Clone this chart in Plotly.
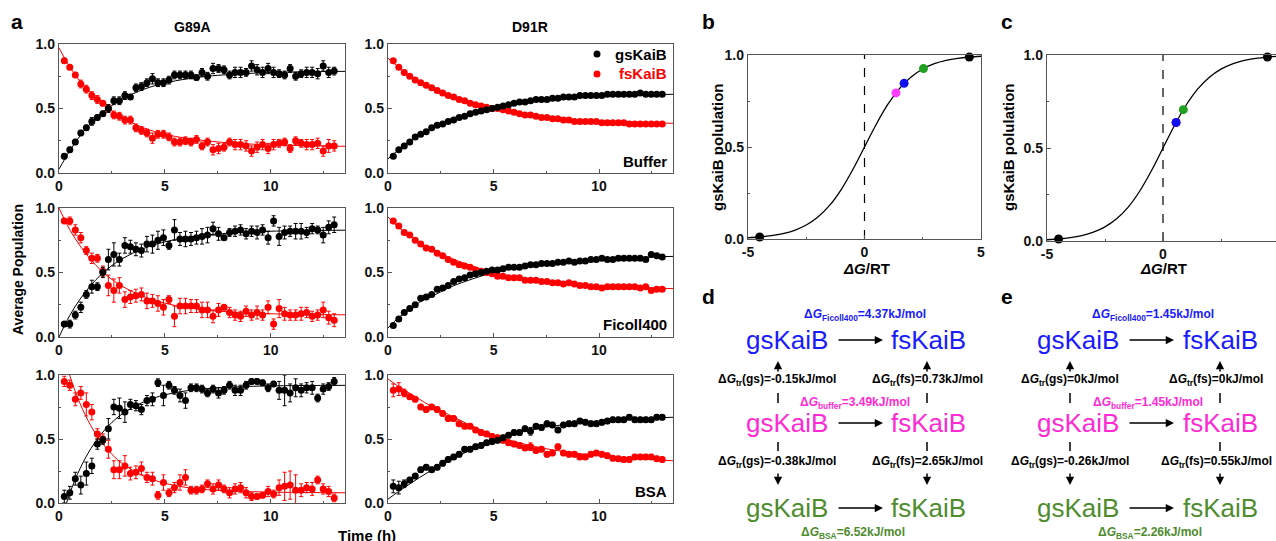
import plotly.graph_objects as go

W, H = 1276, 541
FONT = "Liberation Sans, Arial, sans-serif"
BLUE = "#1a1aff"
MAGENTA = "#ff2ad4"
GREEN = "#4e8c2e"
DOT_MAGENTA = "#ff3cff"
DOT_BLUE = "#1010f0"
DOT_GREEN = "#22a022"

# ---------------- data: panel a ----------------
time_h = [0.25, 0.51, 0.77, 1.03, 1.29, 1.55, 1.81, 2.07, 2.33, 2.59,
          2.85, 3.11, 3.37, 3.63, 3.89, 4.15, 4.41, 4.67, 4.93, 5.19,
          5.45, 5.71, 5.97, 6.23, 6.49, 6.75, 7.01, 7.27, 7.53, 7.79,
          8.05, 8.31, 8.57, 8.83, 9.09, 9.35, 9.61, 9.87, 10.13, 10.39,
          10.65, 10.91, 11.17, 11.43, 11.69, 11.95, 12.21, 12.47, 12.73, 12.99]

g89a_buffer_gs = [0.13, 0.18, 0.24, 0.31, 0.35, 0.40, 0.43, 0.46, 0.50, 0.56,
                  0.56, 0.60, 0.59, 0.66, 0.67, 0.70, 0.73, 0.70, 0.70, 0.72,
                  0.76, 0.76, 0.76, 0.76, 0.74, 0.78, 0.75, 0.81, 0.81, 0.80,
                  0.76, 0.78, 0.78, 0.78, 0.83, 0.80, 0.78, 0.81, 0.78, 0.77,
                  0.76, 0.81, 0.75, 0.77, 0.78, 0.78, 0.77, 0.83, 0.78, 0.79]
g89a_buffer_gs_err = [0.02, 0.02, 0.02, 0.02, 0.02, 0.03, 0.02, 0.02, 0.03, 0.03,
                      0.03, 0.03, 0.02, 0.03, 0.03, 0.03, 0.04, 0.03, 0.03, 0.03,
                      0.03, 0.03, 0.03, 0.03, 0.02, 0.03, 0.03, 0.04, 0.03, 0.03,
                      0.03, 0.04, 0.04, 0.03, 0.04, 0.04, 0.04, 0.04, 0.04, 0.03,
                      0.03, 0.03, 0.03, 0.03, 0.04, 0.04, 0.04, 0.04, 0.04, 0.03]
g89a_buffer_fs = [0.87, 0.82, 0.76, 0.69, 0.65, 0.60, 0.57, 0.54, 0.50, 0.45,
                  0.44, 0.41, 0.41, 0.35, 0.33, 0.31, 0.27, 0.30, 0.30, 0.28,
                  0.24, 0.24, 0.25, 0.24, 0.26, 0.21, 0.24, 0.18, 0.19, 0.20,
                  0.24, 0.22, 0.22, 0.21, 0.17, 0.20, 0.22, 0.19, 0.22, 0.23,
                  0.24, 0.19, 0.25, 0.23, 0.22, 0.22, 0.23, 0.17, 0.21, 0.21]
g89a_buffer_fs_err = [0.02, 0.02, 0.02, 0.03, 0.03, 0.03, 0.03, 0.02, 0.03, 0.03,
                      0.03, 0.03, 0.03, 0.03, 0.03, 0.03, 0.04, 0.03, 0.03, 0.03,
                      0.03, 0.03, 0.03, 0.03, 0.03, 0.03, 0.03, 0.04, 0.04, 0.03,
                      0.03, 0.04, 0.04, 0.04, 0.04, 0.04, 0.04, 0.04, 0.04, 0.03,
                      0.03, 0.03, 0.03, 0.03, 0.04, 0.04, 0.04, 0.04, 0.05, 0.04]

g89a_ficoll_gs = [0.10, 0.10, 0.17, 0.23, 0.33, 0.39, 0.39, 0.50, 0.60, 0.64,
                  0.60, 0.71, 0.70, 0.68, 0.67, 0.72, 0.72, 0.75, 0.77, 0.71,
                  0.83, 0.76, 0.76, 0.76, 0.77, 0.78, 0.79, 0.84, 0.80, 0.77,
                  0.81, 0.82, 0.83, 0.80, 0.82, 0.81, 0.83, 0.77, 0.90, 0.78,
                  0.81, 0.82, 0.82, 0.82, 0.81, 0.84, 0.83, 0.79, 0.85, 0.87]
g89a_ficoll_gs_err = [0.02, 0.03, 0.03, 0.04, 0.03, 0.05, 0.03, 0.04, 0.08, 0.09,
                      0.05, 0.06, 0.05, 0.05, 0.05, 0.06, 0.07, 0.07, 0.06, 0.03,
                      0.08, 0.05, 0.06, 0.05, 0.05, 0.06, 0.06, 0.05, 0.05, 0.02,
                      0.03, 0.04, 0.04, 0.04, 0.04, 0.05, 0.04, 0.05, 0.04, 0.07,
                      0.05, 0.04, 0.06, 0.06, 0.04, 0.04, 0.03, 0.06, 0.05, 0.06]
g89a_ficoll_fs = [0.90, 0.90, 0.83, 0.77, 0.67, 0.61, 0.61, 0.51, 0.40, 0.36,
                  0.40, 0.29, 0.31, 0.32, 0.33, 0.28, 0.28, 0.26, 0.23, 0.29,
                  0.16, 0.24, 0.24, 0.24, 0.24, 0.21, 0.21, 0.16, 0.21, 0.23,
                  0.19, 0.17, 0.16, 0.20, 0.17, 0.19, 0.17, 0.23, 0.10, 0.22,
                  0.18, 0.17, 0.17, 0.18, 0.19, 0.16, 0.17, 0.21, 0.15, 0.13]
g89a_ficoll_fs_err = [0.02, 0.03, 0.04, 0.04, 0.03, 0.04, 0.03, 0.04, 0.08, 0.09,
                      0.06, 0.06, 0.05, 0.05, 0.05, 0.06, 0.05, 0.06, 0.06, 0.03,
                      0.08, 0.06, 0.06, 0.05, 0.05, 0.06, 0.06, 0.05, 0.05, 0.02,
                      0.04, 0.04, 0.04, 0.04, 0.04, 0.05, 0.04, 0.05, 0.04, 0.07,
                      0.05, 0.04, 0.04, 0.05, 0.04, 0.04, 0.04, 0.06, 0.05, 0.05]

g89a_bsa_gs = [0.05, 0.08, 0.19, 0.14, 0.23, 0.29, 0.46, 0.49, 0.58, 0.75,
               0.74, 0.71, 0.77, 0.76, 0.73, 0.80, 0.81, 0.94, 0.84, 0.92,
               0.88, 0.84, 0.80, 0.90, 0.90, 0.89, 0.86, 0.89, 0.86, 0.88,
               0.92, 0.88, 0.88, 0.92, 0.95, 0.95, 0.94, 0.90, 0.93, 0.88,
               0.88, 0.86, 0.90, 0.88, 0.90, 0.90, 0.82, 0.89, 0.91, 0.95]
g89a_bsa_gs_err = [0.05, 0.05, 0.05, 0.07, 0.09, 0.06, 0.04, 0.03, 0.08, 0.06,
                   0.08, 0.08, 0.04, 0.04, 0.04, 0.04, 0.05, 0.03, 0.08, 0.03,
                   0.03, 0.05, 0.06, 0.03, 0.03, 0.03, 0.03, 0.03, 0.04, 0.03,
                   0.03, 0.04, 0.04, 0.03, 0.02, 0.02, 0.02, 0.03, 0.02, 0.07,
                   0.12, 0.07, 0.07, 0.05, 0.04, 0.05, 0.03, 0.04, 0.03, 0.03]
g89a_bsa_fs = [0.95, 0.92, 0.81, 0.86, 0.77, 0.71, 0.54, 0.50, 0.42, 0.26,
               0.26, 0.29, 0.23, 0.24, 0.27, 0.20, 0.19, 0.06, 0.16, 0.08,
               0.12, 0.16, 0.20, 0.10, 0.10, 0.11, 0.15, 0.11, 0.14, 0.11,
               0.08, 0.11, 0.12, 0.08, 0.05, 0.05, 0.06, 0.09, 0.07, 0.12,
               0.13, 0.14, 0.10, 0.10, 0.12, 0.11, 0.18, 0.11, 0.09, 0.04]
g89a_bsa_fs_err = [0.04, 0.04, 0.05, 0.05, 0.09, 0.06, 0.04, 0.04, 0.07, 0.07,
                   0.07, 0.08, 0.05, 0.05, 0.05, 0.04, 0.05, 0.03, 0.06, 0.03,
                   0.04, 0.06, 0.06, 0.03, 0.03, 0.03, 0.03, 0.04, 0.04, 0.03,
                   0.04, 0.04, 0.04, 0.04, 0.03, 0.02, 0.02, 0.04, 0.03, 0.06,
                   0.11, 0.11, 0.12, 0.05, 0.04, 0.05, 0.03, 0.04, 0.04, 0.03]

d91r_buffer_gs = [0.13, 0.18, 0.21, 0.24, 0.28, 0.30, 0.32, 0.35, 0.37, 0.38,
                  0.40, 0.41, 0.43, 0.44, 0.46, 0.47, 0.48, 0.49, 0.50, 0.51,
                  0.52, 0.53, 0.54, 0.55, 0.55, 0.56, 0.57, 0.57, 0.57, 0.58,
                  0.58, 0.59, 0.59, 0.59, 0.60, 0.60, 0.60, 0.60, 0.60, 0.61,
                  0.61, 0.61, 0.61, 0.61, 0.61, 0.62, 0.61, 0.61, 0.61, 0.61]
d91r_buffer_fs = [0.87, 0.82, 0.78, 0.75, 0.72, 0.70, 0.68, 0.66, 0.64, 0.62,
                  0.60, 0.59, 0.57, 0.56, 0.54, 0.53, 0.52, 0.51, 0.50, 0.50,
                  0.49, 0.48, 0.47, 0.46, 0.45, 0.45, 0.44, 0.43, 0.43, 0.42,
                  0.42, 0.41, 0.41, 0.40, 0.40, 0.40, 0.40, 0.40, 0.39, 0.39,
                  0.39, 0.39, 0.39, 0.38, 0.38, 0.38, 0.38, 0.38, 0.38, 0.38]

d91r_ficoll_gs = [0.09, 0.14, 0.19, 0.22, 0.25, 0.30, 0.31, 0.33, 0.37, 0.38,
                  0.40, 0.43, 0.45, 0.46, 0.48, 0.49, 0.50, 0.51, 0.52, 0.52,
                  0.53, 0.54, 0.54, 0.54, 0.55, 0.56, 0.56, 0.57, 0.57, 0.57,
                  0.58, 0.58, 0.59, 0.58, 0.59, 0.59, 0.60, 0.60, 0.61, 0.60,
                  0.60, 0.61, 0.61, 0.61, 0.61, 0.61, 0.60, 0.64, 0.63, 0.62]
d91r_ficoll_fs = [0.90, 0.86, 0.81, 0.79, 0.75, 0.72, 0.69, 0.68, 0.65, 0.63,
                  0.60, 0.58, 0.56, 0.55, 0.54, 0.52, 0.51, 0.50, 0.49, 0.47,
                  0.47, 0.46, 0.46, 0.46, 0.44, 0.44, 0.44, 0.43, 0.43, 0.42,
                  0.42, 0.41, 0.42, 0.41, 0.40, 0.40, 0.39, 0.39, 0.38, 0.39,
                  0.39, 0.39, 0.39, 0.39, 0.39, 0.38, 0.39, 0.36, 0.37, 0.37]

d91r_bsa_gs = [0.13, 0.12, 0.15, 0.18, 0.21, 0.26, 0.28, 0.26, 0.28, 0.31,
               0.34, 0.36, 0.38, 0.42, 0.42, 0.44, 0.45, 0.47, 0.48, 0.49,
               0.51, 0.53, 0.55, 0.55, 0.58, 0.56, 0.60, 0.59, 0.62, 0.61,
               0.57, 0.61, 0.62, 0.62, 0.64, 0.63, 0.62, 0.62, 0.63, 0.64,
               0.65, 0.65, 0.65, 0.67, 0.65, 0.65, 0.65, 0.65, 0.67, 0.67]
d91r_bsa_gs_err = [0.05, 0.05, 0.03, 0.02, 0.02, 0.02, 0.02, 0.02, 0.02, 0.02,
                   0.02, 0.02, 0.02, 0.02, 0.02, 0.02, 0.02, 0.02, 0.02, 0.02,
                   0.02, 0.02, 0.02, 0.02, 0.02, 0.03, 0.02, 0.02, 0.02, 0.02,
                   0.02, 0.02, 0.02, 0.02, 0.02, 0.02, 0.02, 0.02, 0.02, 0.02,
                   0.02, 0.02, 0.02, 0.02, 0.02, 0.02, 0.02, 0.02, 0.02, 0.02]
d91r_bsa_fs = [0.88, 0.89, 0.86, 0.83, 0.81, 0.75, 0.73, 0.75, 0.73, 0.70,
               0.66, 0.66, 0.62, 0.60, 0.60, 0.57, 0.55, 0.54, 0.52, 0.51,
               0.49, 0.47, 0.46, 0.45, 0.43, 0.44, 0.41, 0.42, 0.38, 0.39,
               0.44, 0.39, 0.38, 0.38, 0.36, 0.36, 0.38, 0.39, 0.38, 0.37,
               0.35, 0.345, 0.34, 0.34, 0.36, 0.36, 0.36, 0.36, 0.345, 0.34]
d91r_bsa_fs_err = [0.05, 0.05, 0.03, 0.02, 0.02, 0.02, 0.02, 0.02, 0.02, 0.02,
                   0.02, 0.02, 0.02, 0.02, 0.02, 0.02, 0.02, 0.02, 0.02, 0.02,
                   0.02, 0.02, 0.02, 0.02, 0.02, 0.03, 0.02, 0.02, 0.02, 0.02,
                   0.02, 0.02, 0.02, 0.02, 0.02, 0.02, 0.02, 0.02, 0.02, 0.02,
                   0.02, 0.02, 0.02, 0.02, 0.02, 0.02, 0.02, 0.02, 0.02, 0.02]

# fitted curves
fit_t = [0, 0.5, 1, 1.5, 2, 2.5, 3, 4, 5, 6, 7, 8, 10, 13.5]
g89a_buffer_gs_fit = [0.03, 0.17, 0.29, 0.385, 0.462, 0.524, 0.574, 0.649, 0.697, 0.729, 0.75, 0.763, 0.779, 0.788]
g89a_buffer_fs_fit = [0.97, 0.825, 0.71, 0.618, 0.542, 0.48, 0.427, 0.35, 0.30, 0.27, 0.249, 0.234, 0.218, 0.207]
g89a_ficoll_gs_fit = [0.0, 0.165, 0.295, 0.40, 0.486, 0.554, 0.608, 0.687, 0.738, 0.771, 0.792, 0.805, 0.82, 0.828]
g89a_ficoll_fs_fit = [1.0, 0.834, 0.705, 0.60, 0.514, 0.446, 0.392, 0.313, 0.262, 0.229, 0.208, 0.195, 0.18, 0.172]
g89a_bsa_gs_fit = [-0.19, 0.071, 0.271, 0.424, 0.541, 0.63, 0.698, 0.79, 0.845, 0.876, 0.894, 0.905, 0.915, 0.919]
g89a_bsa_fs_fit = [1.30, 1.0, 0.775, 0.605, 0.477, 0.38, 0.307, 0.21, 0.154, 0.122, 0.104, 0.094, 0.085, 0.08]
d91r_buffer_gs_fit = [0.11, 0.18, 0.245, 0.30, 0.345, 0.385, 0.42, 0.47, 0.505, 0.535, 0.56, 0.575, 0.595, 0.61]
d91r_buffer_fs_fit = [0.89, 0.82, 0.755, 0.70, 0.655, 0.615, 0.58, 0.53, 0.495, 0.465, 0.44, 0.425, 0.405, 0.385]
d91r_ficoll_gs_fit = [0.07, 0.15, 0.21, 0.27, 0.31, 0.35, 0.39, 0.45, 0.50, 0.535, 0.56, 0.58, 0.605, 0.625]
d91r_ficoll_fs_fit = [0.93, 0.85, 0.79, 0.73, 0.69, 0.65, 0.61, 0.55, 0.50, 0.465, 0.44, 0.42, 0.395, 0.375]
d91r_bsa_gs_fit = [0.03, 0.09, 0.145, 0.20, 0.25, 0.295, 0.34, 0.42, 0.49, 0.54, 0.58, 0.605, 0.64, 0.67]
d91r_bsa_fs_fit = [0.97, 0.91, 0.86, 0.81, 0.76, 0.72, 0.68, 0.60, 0.53, 0.48, 0.44, 0.41, 0.37, 0.33]

# ---------------- data: panels b, c ----------------
dg_rt = [-5, -4.5, -4, -3.5, -3, -2.5, -2, -1.5, -1, -0.5, 0,
         0.5, 1, 1.5, 2, 2.5, 3, 3.5, 4, 4.5, 5]
gs_population = [0.0067, 0.0110, 0.0180, 0.0293, 0.0474, 0.0759, 0.1192, 0.1824, 0.2689, 0.3775, 0.5,
                 0.6225, 0.7311, 0.8176, 0.8808, 0.9241, 0.9526, 0.9707, 0.9820, 0.9890, 0.9933]
b_pts_x = [-4.5, 1.35, 1.70, 2.53, 4.5]
b_pts_y = [0.011, 0.794, 0.846, 0.926, 0.989]
b_pts_c = ["black", DOT_MAGENTA, DOT_BLUE, DOT_GREEN, "black"]
c_pts_x = [-4.5, 0.563, 0.563, 0.877, 4.5]
c_pts_y = [0.011, 0.637, 0.637, 0.706, 0.989]
c_pts_c = ["black", DOT_MAGENTA, DOT_BLUE, DOT_GREEN, "black"]

# ---------------- layout geometry (pixels) ----------------
def fx(p):
    return p / W


def fy(p):
    return 1 - p / H


panels = {
    1: dict(x=(59, 345), y=(44, 173)),
    2: dict(x=(388, 673), y=(44, 173)),
    3: dict(x=(59, 345), y=(208, 337)),
    4: dict(x=(388, 673), y=(208, 337)),
    5: dict(x=(59, 345), y=(375, 503)),
    6: dict(x=(388, 673), y=(375, 503)),
    7: dict(x=(748, 981), y=(55, 239)),
    8: dict(x=(1047, 1276), y=(55, 241)),
}

fig = go.Figure()
AXC = "#555555"
tickfont = dict(family=FONT, size=14, color="#111", weight="bold")

layout_axes = {}
for n, p in panels.items():
    xs = "" if n == 1 else str(n)
    xdom = [fx(p["x"][0]), min(1.0, fx(p["x"][1]))]
    ydom = [fy(p["y"][1]), fy(p["y"][0])]
    if n <= 6:
        xr, xt, xminor = [0, 13.5], [0, 5, 10], 2.5
    elif n == 7:
        xr, xt, xminor = [-5, 5], [-5, 0, 5], 2.5
    else:
        xr, xt, xminor = [-5, 4.87], [-5, 0, 5], 2.5
    layout_axes["xaxis" + xs] = dict(
        domain=xdom, range=xr, anchor="y" + xs, tickvals=xt, ticktext=[str(v) for v in xt],
        showline=True, mirror=True, linecolor=AXC, linewidth=1.3, ticks="inside", ticklen=4,
        tickcolor=AXC, tickfont=tickfont, showgrid=False, zeroline=False, automargin=False,
        minor=dict(ticks="inside", ticklen=2, dtick=xminor, tick0=0, tickcolor=AXC),
    )
    layout_axes["yaxis" + xs] = dict(
        domain=ydom, range=[0, 1], anchor="x" + xs, tickvals=[0, 0.5, 1],
        ticktext=["0.0", "0.5", "1.0"],
        showline=True, mirror=(n != 8), linecolor=AXC, linewidth=1.3, ticks="inside", ticklen=4,
        tickcolor=AXC, tickfont=tickfont, showgrid=False, zeroline=False, automargin=False,
        minor=dict(ticks="inside", ticklen=2, dtick=0.25, tick0=0, tickcolor=AXC),
    )

series = [
    (1, g89a_buffer_gs, g89a_buffer_gs_err, g89a_buffer_fs, g89a_buffer_fs_err, g89a_buffer_gs_fit, g89a_buffer_fs_fit),
    (2, d91r_buffer_gs, None, d91r_buffer_fs, None, d91r_buffer_gs_fit, d91r_buffer_fs_fit),
    (3, g89a_ficoll_gs, g89a_ficoll_gs_err, g89a_ficoll_fs, g89a_ficoll_fs_err, g89a_ficoll_gs_fit, g89a_ficoll_fs_fit),
    (4, d91r_ficoll_gs, None, d91r_ficoll_fs, None, d91r_ficoll_gs_fit, d91r_ficoll_fs_fit),
    (5, g89a_bsa_gs, g89a_bsa_gs_err, g89a_bsa_fs, g89a_bsa_fs_err, g89a_bsa_gs_fit, g89a_bsa_fs_fit),
    (6, d91r_bsa_gs, d91r_bsa_gs_err, d91r_bsa_fs, d91r_bsa_fs_err, d91r_bsa_gs_fit, d91r_bsa_fs_fit),
]

for n, gs, gse, fs, fse, gfit, ffit in series:
    xs = "" if n == 1 else str(n)
    for fit, col in ((gfit, "black"), (ffit, "#ff0000")):
        fig.add_trace(go.Scatter(x=fit_t, y=fit, mode="lines", line=dict(color=col, width=1, shape="spline"),
                                 xaxis="x" + xs, yaxis="y" + xs, showlegend=False, hoverinfo="skip"))
    for vals, err, col in ((fs, fse, "#ff0000"), (gs, gse, "black")):
        ey = dict(type="data", array=err, color=col, thickness=1, width=2) if err else None
        fig.add_trace(go.Scatter(x=time_h, y=vals, mode="markers", marker=dict(color=col, size=7),
                                 error_y=ey, xaxis="x" + xs, yaxis="y" + xs, showlegend=False))

for n, px_, py_, pc_ in ((7, b_pts_x, b_pts_y, b_pts_c), (8, c_pts_x, c_pts_y, c_pts_c)):
    xs = str(n)
    fig.add_trace(go.Scatter(x=[0, 0], y=[0, 1], mode="lines", line=dict(color="black", width=1.2, dash="dash"),
                             xaxis="x" + xs, yaxis="y" + xs, showlegend=False))
    fig.add_trace(go.Scatter(x=dg_rt, y=gs_population, mode="lines", line=dict(color="black", width=1.3, shape="spline"),
                             xaxis="x" + xs, yaxis="y" + xs, showlegend=False))
    fig.add_trace(go.Scatter(x=px_, y=py_, mode="markers", marker=dict(color=pc_, size=9),
                             xaxis="x" + xs, yaxis="y" + xs, showlegend=False, cliponaxis=False))

# ---------------- annotations ----------------
anns = []


def text(t, x, y, size, color="black", bold=True, xanchor="center", angle=0):
    anns.append(dict(text=t, x=fx(x), y=fy(y), xref="paper", yref="paper", showarrow=False,
                     xanchor=xanchor, yanchor="middle", textangle=angle,
                     font=dict(family=FONT, size=size, color=color, weight="bold" if bold else "normal")))


def arrow(x_head, y_head, x_tail, y_tail):
    anns.append(dict(text="", x=fx(x_head), y=fy(y_head), xref="paper", yref="paper", showarrow=True,
                     ax=x_tail - x_head, ay=y_tail - y_head, axref="pixel", ayref="pixel",
                     arrowhead=2, arrowsize=1.1, arrowwidth=1.5, arrowcolor="black", standoff=0, startstandoff=0))


shapes = []


def seg(x, y0, y1):
    shapes.append(dict(type="line", xref="paper", yref="paper", x0=fx(x), x1=fx(x), y0=fy(y0), y1=fy(y1),
                       line=dict(color="black", width=1.5)))


# panel letters and titles
text("a", 17, 21, 21)
text("b", 708, 22, 21)
text("c", 1007, 22, 21)
text("d", 708, 296, 21)
text("e", 1007, 296, 21)
text("G89A", 192, 27, 14)
text("D91R", 530, 27, 14)
text("Average Population", 18, 270, 14, angle=-90)
text("Time (h)", 367, 535, 15)
text("Buffer", 669, 161, 15, xanchor="right")
text("Ficoll400", 669, 324, 15, xanchor="right")
text("BSA", 669, 491, 15, xanchor="right")
text("gsKaiB", 669, 54, 15, xanchor="right")
text("fsKaiB", 669, 74, 15, color="#ff0000", xanchor="right")
for cy, col in ((54, "black"), (74, "#ff0000")):
    shapes.append(dict(type="circle", xref="paper", yref="paper", xsizemode="pixel", ysizemode="pixel",
                       xanchor=fx(597), yanchor=fy(cy), x0=-3.5, x1=3.5, y0=-3.5, y1=3.5,
                       fillcolor=col, line=dict(color=col, width=0)))

text("gsKaiB polulation", 717, 147, 15, angle=-90)
text("gsKaiB polulation", 1008, 147, 15, angle=-90)
text("<i>ΔG</i>/RT", 866, 268, 15)
text("<i>ΔG</i>/RT", 1163, 268, 15)

# panels d and e
def scheme(gx, fxp, lx, rx, top, tr_gs1, tr_fs1, mid, tr_gs2, tr_fs2, bot, topx, midx, botx):
    text("Δ<i>G</i><sub>Ficoll400</sub>=" + top, topx, 315, 12, color=BLUE)
    text("Δ<i>G</i><sub>buffer</sub>=" + mid, midx, 403, 12, color=MAGENTA)
    text("Δ<i>G</i><sub>BSA</sub>=" + bot, botx, 533, 12, color=GREEN)
    for yy, col in ((340, BLUE), (423, MAGENTA), (508, GREEN)):
        text("gsKaiB", gx, yy, 26, color=col, bold=False)
        text("fsKaiB", fxp, yy, 26, color=col, bold=False)
    text("Δ<i>G</i><sub>tr</sub>(gs)=" + tr_gs1, lx, 380, 12)
    text("Δ<i>G</i><sub>tr</sub>(fs)=" + tr_fs1, rx, 380, 12)
    text("Δ<i>G</i><sub>tr</sub>(gs)=" + tr_gs2, lx, 462, 12)
    text("Δ<i>G</i><sub>tr</sub>(fs)=" + tr_fs2, rx, 462, 12)


scheme(787, 928, 777, 927, "4.37kJ/mol", "-0.15kJ/mol", "0.73kJ/mol", "3.49kJ/mol",
       "-0.38kJ/mol", "2.65kJ/mol", "6.52kJ/mol", 865, 855, 853)
scheme(1078, 1220, 1070, 1216, "1.45kJ/mol", "0kJ/mol", "0kJ/mol", "1.45kJ/mol",
       "-0.26kJ/mol", "0.55kJ/mol", "2.26kJ/mol", 1153, 1148, 1150)

for (ax0, ax1, vl, vr) in ((837, 883, 778, 927), (1128, 1174, 1070, 1220)):
    for yy in (340, 423, 508):
        arrow(ax1, yy, ax0, yy)
    for vx in (vl, vr):
        arrow(vx, 361, vx, 373)
        seg(vx, 393, 403)
        seg(vx, 442, 451)
        arrow(vx, 485, vx, 472)

fig.update_layout(
    width=W, height=H, margin=dict(l=0, r=0, t=0, b=0),
    paper_bgcolor="white", plot_bgcolor="white",
    font=dict(family=FONT, color="black"),
    annotations=anns, shapes=shapes, showlegend=False,
    **layout_axes,
)

fig.write_html(
    "out.html",
    config={"displayModeBar": False},
    post_script="document.body.style.margin='0';document.body.style.padding='0';"
                "document.body.style.overflow='hidden';",
)
